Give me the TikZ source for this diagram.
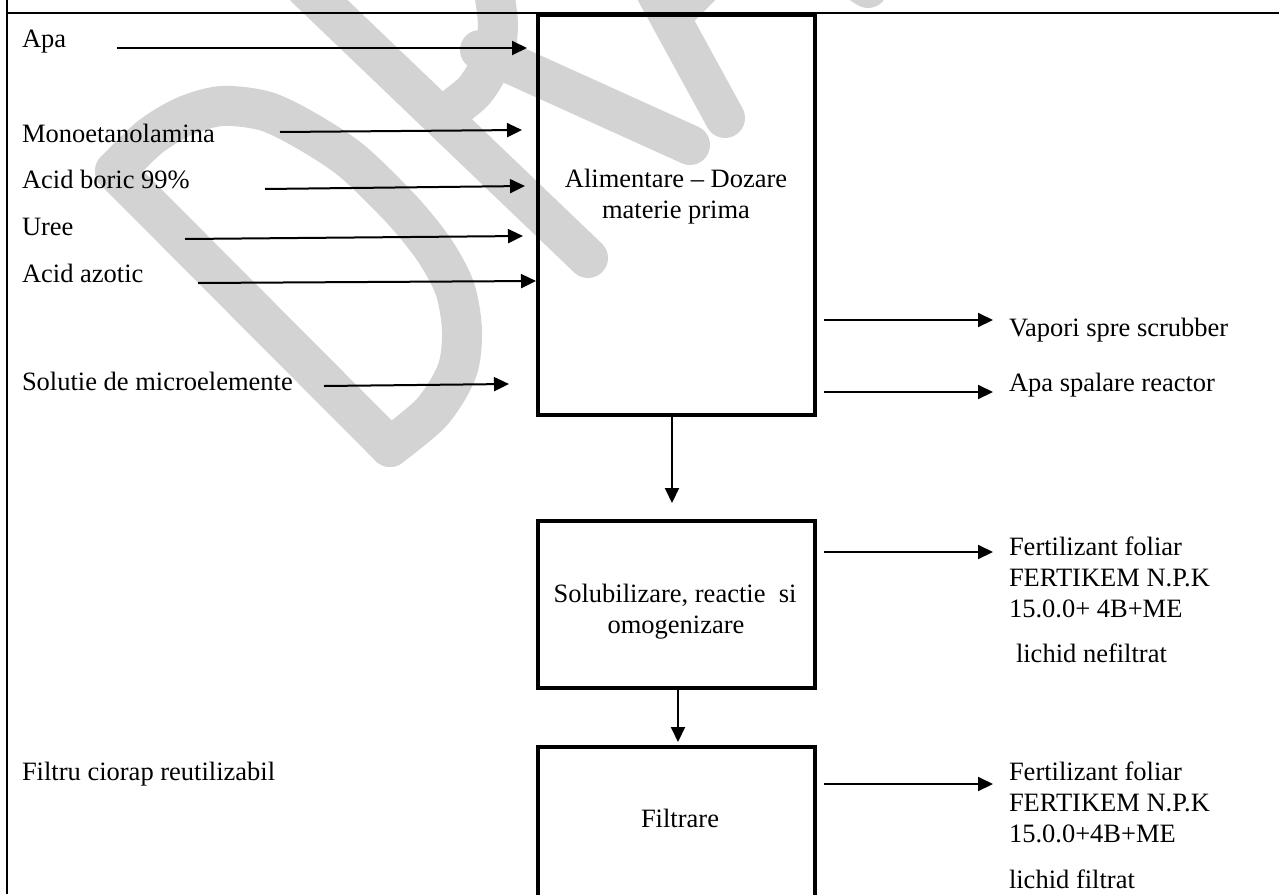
\documentclass[tikz,border=0pt]{standalone}
\usepackage{fontspec}
\setmainfont{Liberation Serif}
\usetikzlibrary{arrows.meta}
\definecolor{wmgray}{RGB}{211,211,211}
\begin{document}
\begin{tikzpicture}[x=1pt,y=-1pt,
  every node/.style={font=\fontsize{26.5pt}{31pt}\selectfont, inner sep=0pt, outer sep=0pt},
  lbl/.style={anchor=base west},
  ctr/.style={anchor=base},
  procbox/.style={draw, line width=3.5pt, minimum width=277pt},
  arr/.style={line width=2pt, -{Triangle[length=15pt,width=14pt]}},
  framel/.style={line width=2pt},
  wm/.style={line width=40pt, draw=wmgray, line cap=round, line join=round}]
\useasboundingbox (0,0) rectangle (1279,894);
\clip (0,0) rectangle (1279,894);
% ---- watermark (DRAFT, rotated) ----
\draw[wm] plot[smooth] coordinates {(115,171) (150,137) (185,116) (222,106) (265,111) (305,130) (352,161) (403,211) (435,251) (455,289) (462,331) (457,371) (432,412) (390,447)};
\draw[wm] (115,171) -- (390,447);
\draw[wm] (306,-12) -- (588,258);
\draw[wm] plot[smooth] coordinates {(448,112) (475,90) (493,58) (498,25) (493,-15)};
\draw[wm] (480,50) -- (690,145);
\draw[wm] (655,-10) -- (725,118);
\draw[wm] (670,17) -- (720,-33);
\draw[wm] (868,-12) -- (800,-55);
% ---- frame ----
\draw[framel] (7,0) -- (7,894);
\draw[framel] (6,13) -- (1279,13);
% ---- boxes ----
\node[procbox, minimum height=400pt] (b1) at (676.5,215) {};
\node[procbox, minimum height=167pt] (b2) at (676.5,604.5) {};
\node[procbox, minimum height=160pt] (b3) at (676.5,827) {};
\node[ctr] (t1a) at (676,187) {Alimentare – Dozare};
\node[ctr] (t1b) at (676,218) {materie prima};
\node[ctr] (t2a) at (675,602) {Solubilizare, reactie\ \ si};
\node[ctr] (t2b) at (676,633) {omogenizare};
\node[ctr] (t3) at (680,827) {Filtrare};
% ---- input labels ----
\node[lbl] (lapa) at (22,47) {Apa};
\node[lbl] (lmono) at (22,142) {Monoetanolamina};
\node[lbl] (lbor) at (22,188) {Acid boric 99\%};
\node[lbl] (luree) at (22,235) {Uree};
\node[lbl] (lazot) at (22,282) {Acid azotic};
\node[lbl] (lsol) at (22,390) {Solutie de microelemente};
\node[lbl] (lfil) at (22,780) {Filtru ciorap reutilizabil};
% ---- output labels ----
\node[lbl] (ovap) at (1009,336) {Vapori spre scrubber};
\node[lbl] (oapa) at (1009,391) {Apa spalare reactor};
\node[lbl] (of1a) at (1009,555) {Fertilizant foliar};
\node[lbl] (of1b) at (1009,586) {FERTIKEM N.P.K};
\node[lbl] (of1c) at (1009,617) {15.0.0+ 4B+ME};
\node[lbl] (of1d) at (1016,662) {lichid nefiltrat};
\node[lbl] (of2a) at (1009,780) {Fertilizant foliar};
\node[lbl] (of2b) at (1009,811) {FERTIKEM N.P.K};
\node[lbl] (of2c) at (1009,842) {15.0.0+4B+ME};
\node[lbl] (of2d) at (1009,888) {lichid filtrat};
% ---- input arrows ----
\coordinate (ia1) at (117,48);  \coordinate (ib1) at (527,48);
\coordinate (ia2) at (280,132); \coordinate (ib2) at (522,130);
\coordinate (ia3) at (265,189); \coordinate (ib3) at (525,186);
\coordinate (ia4) at (185,239); \coordinate (ib4) at (523,236);
\coordinate (ia5) at (198,283); \coordinate (ib5) at (536,281);
\coordinate (ia6) at (324,386); \coordinate (ib6) at (509,384);
\draw[arr] (ia1) -- (ib1);
\draw[arr] (ia2) -- (ib2);
\draw[arr] (ia3) -- (ib3);
\draw[arr] (ia4) -- (ib4);
\draw[arr] (ia5) -- (ib5);
\draw[arr] (ia6) -- (ib6);
% ---- output arrows ----
\coordinate (oa1) at (824,320); \coordinate (ob1) at (993,320);
\coordinate (oa2) at (824,392); \coordinate (ob2) at (993,392);
\coordinate (oa3) at (824,552); \coordinate (ob3) at (993,552);
\coordinate (oa4) at (824,784); \coordinate (ob4) at (993,784);
\draw[arr] (oa1) -- (ob1);
\draw[arr] (oa2) -- (ob2);
\draw[arr] (oa3) -- (ob3);
\draw[arr] (oa4) -- (ob4);
% ---- flow arrows ----
\coordinate (d1) at (672,503);
\coordinate (d2) at (678,742);
\draw[arr] (d1 |- b1.south) -- (d1);
\draw[arr] (d2 |- b2.south) -- (d2);
\end{tikzpicture}
\end{document}
